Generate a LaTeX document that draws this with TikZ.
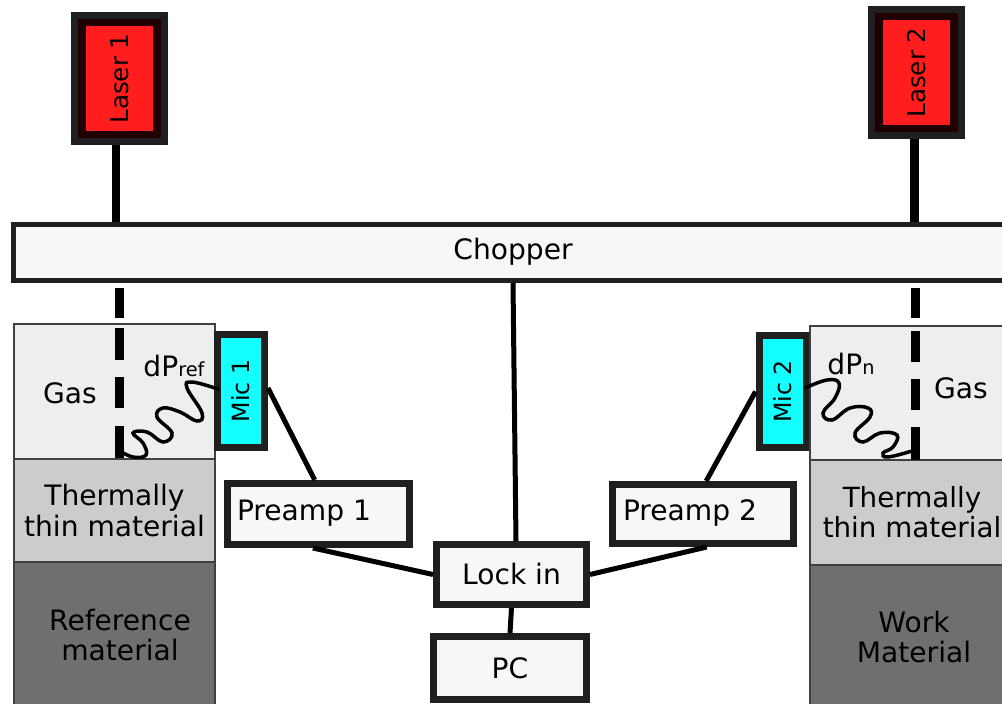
\documentclass[tikz,border=0pt]{standalone}
\usepackage{fontspec}
\setmainfont{DejaVu Sans}
\usetikzlibrary{calc,positioning}
\definecolor{laserred}{HTML}{FF1D1D}
\definecolor{lasercore}{HTML}{200000}
\definecolor{miccyan}{HTML}{14FFFF}
\definecolor{darkline}{HTML}{1F1F1F}
\definecolor{panelwhite}{HTML}{F7F7F7}
\definecolor{gasgrey}{HTML}{EEEEEE}
\definecolor{thingrey}{HTML}{CCCCCC}
\definecolor{backgrey}{HTML}{6F6F6F}
\tikzset{
  txt/.style={
    font=\fontsize{16}{17.2}\selectfont,
    align=center,
    inner sep=0pt
  },
  housing/.style={
    draw=darkline,
    line width=.14cm,
    fill=lasercore,
    inner sep=0pt,
    minimum width=1.8cm,
    minimum height=2.52cm
  },
  laser/.style={
    txt,
    font=\fontsize{14}{15}\selectfont,
    fill=laserred,
    rotate=90,
    minimum width=2.12cm,
    minimum height=1.36cm
  },
  micro/.style={
    txt,
    font=\fontsize{13.5}{15}\selectfont,
    draw=darkline,
    line width=.14cm,
    fill=miccyan,
    rotate=90,
    minimum width=2.25cm,
    minimum height=.94cm
  },
  panel/.style={
    txt,
    draw=darkline,
    line width=.14cm,
    fill=panelwhite
  },
  layer/.style={
    txt,
    draw=black!75,
    line width=.6pt,
    outer sep=0pt
  },
  beam/.style={line width=.18cm, black},
  wire/.style={line width=.1cm, black},
  wave/.style={line width=.07cm, black, line cap=round}
}
\begin{document}
\begin{tikzpicture}[x=.02cm,y=-.02cm]
\useasboundingbox (0,0) rectangle (1002,704);
\clip (0,0) rectangle (1002,704);
\node[housing] (housing1) at (119.5,78.5) {};
\node[laser] (laser1) at (119.5,78.5) {Laser 1};
\node[housing] (housing2) at (916.5,72.5) {};
\node[laser] (laser2) at (916.5,72.5) {Laser 2};
\node[panel, line width=.1cm, minimum width=19.98cm, minimum height=1.12cm] (chopper) at (513,252) {Chopper};
\node[layer, fill=gasgrey, minimum width=4.02cm, minimum height=2.7cm] (gas1) at (114.5,391.5) {};
\node[layer, fill=thingrey, minimum width=4.02cm, minimum height=2.06cm, below=0pt of gas1] (thin1) {Thermally\\thin material};
\node[layer, fill=backgrey, minimum width=4.02cm, minimum height=2.92cm, below=0pt of thin1] (ref1) {};
\node[layer, fill=gasgrey, minimum width=4.08cm, minimum height=2.68cm] (gas2) at (912,393) {};
\node[layer, fill=thingrey, minimum width=4.08cm, minimum height=2.1cm, below=0pt of gas2, font=\fontsize{15.8}{17.2}\selectfont] (thin2) {Thermally\\thin material};
\node[layer, fill=backgrey, minimum width=4.08cm, minimum height=2.88cm, below=0pt of thin2] (work2) {};
\node[micro] (mic1) at (241,391) {Mic 1};
\node[micro] (mic2) at (782.5,391.5) {Mic 2};
\node[panel, minimum width=3.64cm, minimum height=1.22cm] (preamp1) at (318.5,514) {};
\node[panel, minimum width=3.62cm, minimum height=1.18cm] (preamp2) at (703,514) {};
\node[panel, minimum width=3cm, minimum height=1.2cm] (lockin) at (511.5,574.5) {Lock in};
\node[panel, minimum width=3.06cm, minimum height=1.26cm] (pc) at (510,668) {PC};
\node[txt] (gaslabel1) at (70,393) {Gas};
\node[txt] (gaslabel2) at (961,388) {Gas};
\node[txt] (dpref) at (174,366) {dP{\fontsize{11}{12}\selectfont ref}};
\node[txt] (dpn) at (851,364) {dP{\fontsize{11}{12}\selectfont n}};
\node[txt] (preamplabel1) at (304,513) {Preamp 1};
\node[txt] (preamplabel2) at (690,513) {Preamp 2};
\node[txt] (reflabel) at (120,635) {Reference\\material};
\node[txt] (worklabel) at (914,637) {Work\\Material};
\draw[beam] ([xshift=-.07cm]housing1.south) -- ([xshift=-.07cm]housing1.south |- chopper.north);
\draw[beam] ([xshift=-.05cm]housing2.south) -- ([xshift=-.05cm]housing2.south |- chopper.north);
\draw[beam, dash pattern=on .62cm off .2cm on .64cm off .34cm on .62cm off .36cm on .64cm] ([yshift=-.1cm]housing1.south |- chopper.south) -- (housing1.south |- gas1.south);
\draw[beam, dash pattern=on .62cm off .26cm on .62cm off .34cm on .62cm off .34cm on .66cm] ([yshift=-.1cm,xshift=-.02cm]housing2.south |- chopper.south) -- ([xshift=-.02cm]housing2.south |- gas2.south);
\draw[wave] plot[smooth, tension=.7] coordinates {(118,450) (133,457) (146,455) (143,443) (133,433) (147,432) (163,442) (172,433) (157,417) (163,408) (180,412) (197,421) (202,413) (187,388) (192,382) (218,389)};
\draw[wave] plot[smooth, tension=.7] coordinates {(805,388) (827,380) (839,383) (835,398) (823,413) (832,420) (850,408) (868,408) (870,417) (855,433) (863,442) (880,433) (897,435) (893,447) (883,453) (888,457) (912,451)};
\draw[wire] ([yshift=.06cm]mic1.south) -- ($(preamp1.north west)!.48!(preamp1.north east)$);
\draw[wire] (mic2.north) -- ($(preamp2.north west)!.517!(preamp2.north east)$);
\draw[wire] ($(preamp1.south west)!.47!(preamp1.south east)$) -- (lockin.west);
\draw[wire] ($(preamp2.south west)!.52!(preamp2.south east)$) -- (lockin.east);
\draw[wire] (chopper.south) -- ([xshift=.09cm]lockin.north);
\draw[wire] (lockin.south) -- (pc.north);
\end{tikzpicture}
\end{document}
